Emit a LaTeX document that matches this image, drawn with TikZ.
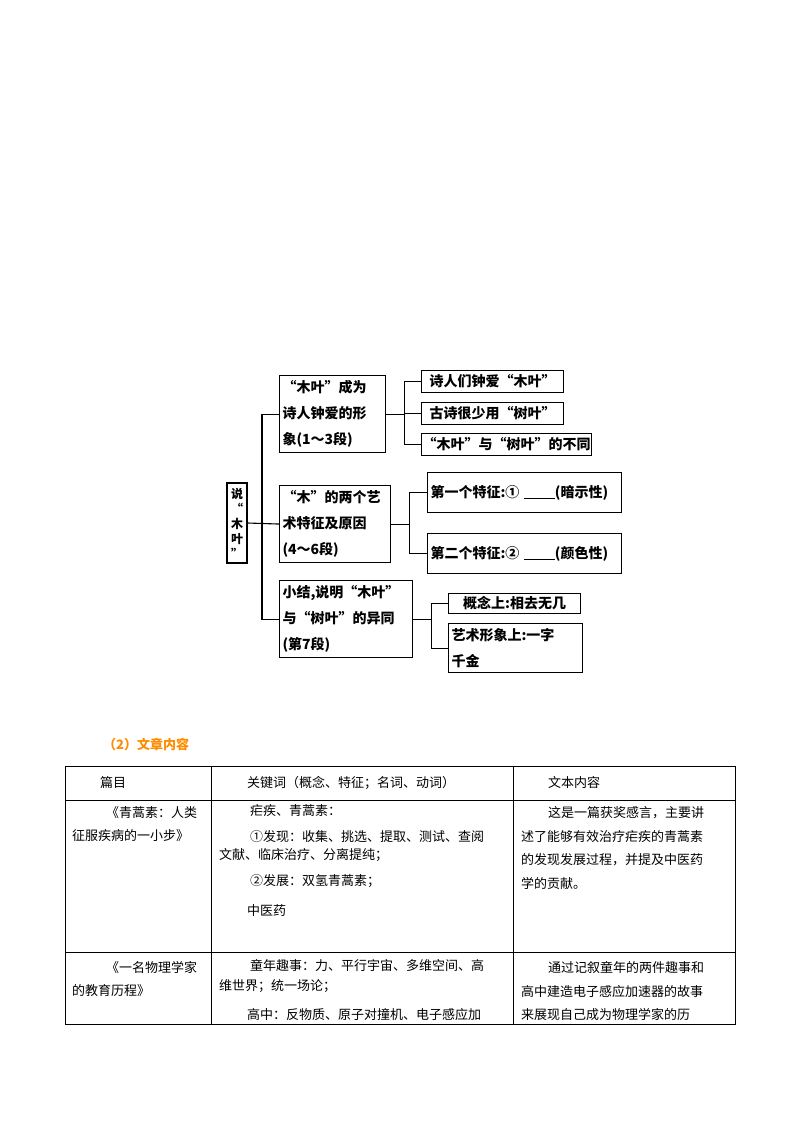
\documentclass[tikz,border=0pt]{standalone}
\usepackage{fontspec}
\setmainfont{Noto Sans CJK SC}
\newfontfamily\cjkb{Noto Sans CJK SC Bold}
\begin{document}
\begin{tikzpicture}[x=1pt,y=-1pt,
  box/.style={draw,line width=1.1pt,inner sep=3pt,align=left,anchor=north west,font=\fontsize{14}{26}\selectfont\bfseries},
  conn/.style={line width=1.1pt},
  tt/.style={anchor=west,inner sep=0pt,font=\fontsize{13}{15}\selectfont},
  grid/.style={line width=0.8pt}]
\useasboundingbox (0,0) rectangle (800,1132);
% diagram
\node[draw,line width=1.1pt,minimum width=20,minimum height=80,inner sep=0pt,align=center,font=\fontsize{12}{15}\selectfont\bfseries] (root) at (237,523) {说\\“\\木\\叶\\”};
\node[box,minimum width=106,minimum height=77,text width=100] (A) at (279,375) {“木叶”成为\\诗人钟爱的形\\象(1～3段)};
\node[box,minimum width=111,minimum height=77,text width=105] (B) at (279,485) {“木”的两个艺\\术特征及原因\\(4～6段)};
\node[box,minimum width=133,minimum height=77,text width=127] (C) at (279,580) {小结,说明“木叶”\\与“树叶”的异同\\(第7段)};
\node[box,minimum width=142,minimum height=22,inner sep=1pt] (A1) at (421,370) {诗人们钟爱“木叶”};
\node[box,minimum width=142,minimum height=22,inner sep=1pt] (A2) at (421,402) {古诗很少用“树叶”};
\node[box,minimum width=167,minimum height=22,inner sep=1pt] (A3) at (421,433) {“木叶”与“树叶”的不同};
\node[box,minimum width=194,minimum height=40,text width=188] (B1) at (427,472) {第一个特征:①\ \underline{\hspace{2.2em}}(暗示性)};
\node[box,minimum width=194,minimum height=40,text width=188] (B2) at (427,533) {第二个特征:②\ \underline{\hspace{2.2em}}(颜色性)};
\node[box,minimum width=132,minimum height=20,inner sep=1pt] (C1) at (448,593) {概念上:相去无几};
\node[box,minimum width=134,minimum height=49,text width=128,inner sep=3pt] (C2) at (448,623) {艺术形象上:一字\\千金};
\draw[conn] (A.west) -- ++(-17,0) coordinate (t1) -- (t1 |- C.west) -- (C.west);
\draw[conn] (root.east) -- (B.west);
\draw[conn] (A.east) -- ++(18,0) coordinate (ja);
\draw[conn] (A1.west) -| (ja) |- (A3.west);
\draw[conn] (ja) -- (ja |- A2.west) -- (A2.west);
\draw[conn] (B.east) -- ++(18,0) coordinate (jb);
\draw[conn] (B1.west) -| (jb) |- (B2.west);
\draw[conn] (C.east) -- ++(18,0) coordinate (jc);
\draw[conn] (C1.west) -| (jc) |- (C2.west);
% title
\node[tt,text=orange!90!yellow,font=\fontsize{13}{15}\selectfont\bfseries] (title) at (103,745) {（2）文章内容};
% table
\draw[grid] (65,766) rectangle (735,1024);
\draw[grid] (65,800) -- (735,800);
\draw[grid] (65,952) -- (735,952);
\draw[grid] (211,766) -- (211,1024);
\draw[grid] (513,766) -- (513,1024);
\node[tt] (h1) at (100,783) {篇目};
\node[tt] (h2) at (247,783) {关键词（概念、特征；名词、动词）};
\node[tt] (h3) at (548,783) {文本内容};
\node[tt] (a1) at (106,813) {《青蒿素：人类};
\node[tt] (a2) at (72,836) {征服疾病的一小步》};
\node[tt] (b1) at (250,811) {疟疾、青蒿素：};
\node[tt] (b2) at (250,837) {①发现：收集、挑选、提取、测试、查阅};
\node[tt] (b3) at (219,855) {文献、临床治疗、分离提纯；};
\node[tt] (b4) at (250,881) {②发展：双氢青蒿素；};
\node[tt] (b5) at (247,911) {中医药};
\node[tt] (c1) at (548,813) {这是一篇获奖感言，主要讲};
\node[tt] (c2) at (521,837) {述了能够有效治疗疟疾的青蒿素};
\node[tt] (c3) at (521,860) {的发现发展过程，并提及中医药};
\node[tt] (c4) at (521,884) {学的贡献。};
\node[tt] (d1) at (106,968) {《一名物理学家};
\node[tt] (d2) at (72,991) {的教育历程》};
\node[tt] (e1) at (250,966) {童年趣事：力、平行宇宙、多维空间、高};
\node[tt] (e2) at (219,986) {维世界；统一场论；};
\node[tt] (e3) at (247,1015) {高中：反物质、原子对撞机、电子感应加};
\node[tt] (f1) at (548,968) {通过记叙童年的两件趣事和};
\node[tt] (f2) at (521,992) {高中建造电子感应加速器的故事};
\node[tt] (f3) at (521,1015) {来展现自己成为物理学家的历};
\end{tikzpicture}
\end{document}
